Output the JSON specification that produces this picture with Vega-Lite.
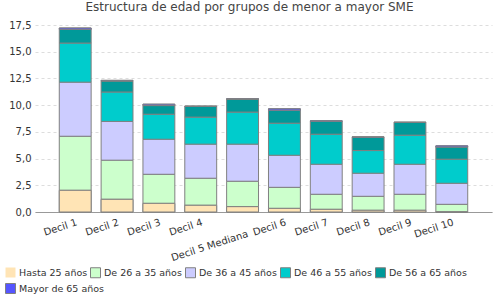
{
  "$schema": "https://vega.github.io/schema/vega-lite/v6.json",
  "autosize": "none",
  "width": 457,
  "height": 187,
  "padding": {"left": 35, "top": 25, "right": 8, "bottom": 88},
  "background": "white",
  "title": {"text": "Estructura de edad por grupos de menor a mayor SME", "fontSize": 12, "fontWeight": "normal", "font": "DejaVu Sans", "color": "#444444", "anchor": "middle", "dx": -14, "offset": 6},
  "config": {"view": {"stroke": null}, "font": "DejaVu Sans"},
  "data": {"values": [
    {"decil": "Decil 1", "grupo": "Hasta 25 años", "o": 1, "v": 2.03},
    {"decil": "Decil 1", "grupo": "De 26 a 35 años", "o": 2, "v": 5.06},
    {"decil": "Decil 1", "grupo": "De 36 a 45 años", "o": 3, "v": 5.06},
    {"decil": "Decil 1", "grupo": "De 46 a 55 años", "o": 4, "v": 3.66},
    {"decil": "Decil 1", "grupo": "De 56 a 65 años", "o": 5, "v": 1.28},
    {"decil": "Decil 1", "grupo": "Mayor de 65 años", "o": 6, "v": 0.13},
    {"decil": "Decil 2", "grupo": "Hasta 25 años", "o": 1, "v": 1.19},
    {"decil": "Decil 2", "grupo": "De 26 a 35 años", "o": 2, "v": 3.66},
    {"decil": "Decil 2", "grupo": "De 36 a 45 años", "o": 3, "v": 3.63},
    {"decil": "Decil 2", "grupo": "De 46 a 55 años", "o": 4, "v": 2.75},
    {"decil": "Decil 2", "grupo": "De 56 a 65 años", "o": 5, "v": 1.03},
    {"decil": "Decil 2", "grupo": "Mayor de 65 años", "o": 6, "v": 0.06},
    {"decil": "Decil 3", "grupo": "Hasta 25 años", "o": 1, "v": 0.81},
    {"decil": "Decil 3", "grupo": "De 26 a 35 años", "o": 2, "v": 2.72},
    {"decil": "Decil 3", "grupo": "De 36 a 45 años", "o": 3, "v": 3.28},
    {"decil": "Decil 3", "grupo": "De 46 a 55 años", "o": 4, "v": 2.34},
    {"decil": "Decil 3", "grupo": "De 56 a 65 años", "o": 5, "v": 0.81},
    {"decil": "Decil 3", "grupo": "Mayor de 65 años", "o": 6, "v": 0.13},
    {"decil": "Decil 4", "grupo": "Hasta 25 años", "o": 1, "v": 0.63},
    {"decil": "Decil 4", "grupo": "De 26 a 35 años", "o": 2, "v": 2.53},
    {"decil": "Decil 4", "grupo": "De 36 a 45 años", "o": 3, "v": 3.19},
    {"decil": "Decil 4", "grupo": "De 46 a 55 años", "o": 4, "v": 2.53},
    {"decil": "Decil 4", "grupo": "De 56 a 65 años", "o": 5, "v": 1.0},
    {"decil": "Decil 4", "grupo": "Mayor de 65 años", "o": 6, "v": 0.03},
    {"decil": "Decil 5 Mediana", "grupo": "Hasta 25 años", "o": 1, "v": 0.5},
    {"decil": "Decil 5 Mediana", "grupo": "De 26 a 35 años", "o": 2, "v": 2.38},
    {"decil": "Decil 5 Mediana", "grupo": "De 36 a 45 años", "o": 3, "v": 3.47},
    {"decil": "Decil 5 Mediana", "grupo": "De 46 a 55 años", "o": 4, "v": 3.0},
    {"decil": "Decil 5 Mediana", "grupo": "De 56 a 65 años", "o": 5, "v": 1.22},
    {"decil": "Decil 5 Mediana", "grupo": "Mayor de 65 años", "o": 6, "v": 0.03},
    {"decil": "Decil 6", "grupo": "Hasta 25 años", "o": 1, "v": 0.34},
    {"decil": "Decil 6", "grupo": "De 26 a 35 años", "o": 2, "v": 1.97},
    {"decil": "Decil 6", "grupo": "De 36 a 45 años", "o": 3, "v": 3.0},
    {"decil": "Decil 6", "grupo": "De 46 a 55 años", "o": 4, "v": 3.0},
    {"decil": "Decil 6", "grupo": "De 56 a 65 años", "o": 5, "v": 1.22},
    {"decil": "Decil 6", "grupo": "Mayor de 65 años", "o": 6, "v": 0.13},
    {"decil": "Decil 7", "grupo": "Hasta 25 años", "o": 1, "v": 0.25},
    {"decil": "Decil 7", "grupo": "De 26 a 35 años", "o": 2, "v": 1.41},
    {"decil": "Decil 7", "grupo": "De 36 a 45 años", "o": 3, "v": 2.81},
    {"decil": "Decil 7", "grupo": "De 46 a 55 años", "o": 4, "v": 2.81},
    {"decil": "Decil 7", "grupo": "De 56 a 65 años", "o": 5, "v": 1.22},
    {"decil": "Decil 7", "grupo": "Mayor de 65 años", "o": 6, "v": 0.03},
    {"decil": "Decil 8", "grupo": "Hasta 25 años", "o": 1, "v": 0.16},
    {"decil": "Decil 8", "grupo": "De 26 a 35 años", "o": 2, "v": 1.31},
    {"decil": "Decil 8", "grupo": "De 36 a 45 años", "o": 3, "v": 2.16},
    {"decil": "Decil 8", "grupo": "De 46 a 55 años", "o": 4, "v": 2.12},
    {"decil": "Decil 8", "grupo": "De 56 a 65 años", "o": 5, "v": 1.25},
    {"decil": "Decil 8", "grupo": "Mayor de 65 años", "o": 6, "v": 0.03},
    {"decil": "Decil 9", "grupo": "Hasta 25 años", "o": 1, "v": 0.16},
    {"decil": "Decil 9", "grupo": "De 26 a 35 años", "o": 2, "v": 1.5},
    {"decil": "Decil 9", "grupo": "De 36 a 45 años", "o": 3, "v": 2.81},
    {"decil": "Decil 9", "grupo": "De 46 a 55 años", "o": 4, "v": 2.72},
    {"decil": "Decil 9", "grupo": "De 56 a 65 años", "o": 5, "v": 1.19},
    {"decil": "Decil 9", "grupo": "Mayor de 65 años", "o": 6, "v": 0.03},
    {"decil": "Decil 10", "grupo": "Hasta 25 años", "o": 1, "v": 0.02},
    {"decil": "Decil 10", "grupo": "De 26 a 35 años", "o": 2, "v": 0.7},
    {"decil": "Decil 10", "grupo": "De 36 a 45 años", "o": 3, "v": 1.97},
    {"decil": "Decil 10", "grupo": "De 46 a 55 años", "o": 4, "v": 2.25},
    {"decil": "Decil 10", "grupo": "De 56 a 65 años", "o": 5, "v": 1.15},
    {"decil": "Decil 10", "grupo": "Mayor de 65 años", "o": 6, "v": 0.1}
  ]},
  "transform": [
    {"stack": "v", "groupby": ["decil"], "sort": [{"field": "o", "order": "ascending"}], "as": ["y0", "y1"]}
  ],
  "encoding": {
    "x": {"field": "decil", "type": "nominal", "sort": null,
      "scale": {"paddingInner": 0.238, "paddingOuter": 0.58},
      "axis": {"title": null, "labelAngle": -18, "labelAlign": "right", "labelBaseline": "top", "labelFontSize": 10, "labelColor": "#333333", "ticks": false, "domainColor": "#999999", "labelPadding": 5, "labelOverlap": false,
        "labelExpr": "datum.value == 'Decil 5 Mediana' ? ['', 'Decil 5 Mediana'] : datum.value"}},
    "y": {"field": "y1", "type": "quantitative",
      "scale": {"domain": [0, 17.5], "nice": false},
      "axis": {"title": null, "values": [0, 2.5, 5, 7.5, 10, 12.5, 15, 17.5], "labelExpr": "replace(format(datum.value, '.1f'), '.', ',')", "domain": false, "ticks": false, "labelFontSize": 10, "labelColor": "#333333", "gridColor": "#dddddd", "gridDash": [3, 3], "labelPadding": 4}},
    "y2": {"field": "y0"}
  },
  "layer": [
    {
      "mark": {"type": "bar", "stroke": "#808080", "strokeWidth": 1},
      "encoding": {
        "color": {"field": "grupo", "type": "nominal",
          "scale": {"domain": ["Hasta 25 años", "De 26 a 35 años", "De 36 a 45 años", "De 46 a 55 años", "De 56 a 65 años", "Mayor de 65 años"],
            "range": ["#ffe4b5", "#ccffcc", "#ccccff", "#00cccc", "#009999", "#5555ff"]},
          "legend": {"title": null, "orient": "none", "legendX": 55, "legendY": 242, "direction": "horizontal",
            "values": ["De 26 a 35 años", "De 36 a 45 años", "De 46 a 55 años", "De 56 a 65 años"],
            "symbolType": "square", "symbolSize": 100, "symbolStrokeColor": "#808080", "symbolStrokeWidth": 1, "labelFontSize": 9.5, "labelColor": "#333333", "columnPadding": 1, "labelOffset": 3}}
      }
    },
    {
      "transform": [{"filter": "datum.grupo == 'Hasta 25 años'"}],
      "mark": {"type": "bar", "fill": "#ffe4b5", "stroke": "#808080", "strokeWidth": 1},
      "encoding": {
        "opacity": {"field": "grupo", "type": "nominal",
          "scale": {"domain": ["Hasta 25 años"], "range": [1]},
          "legend": {"title": null, "orient": "none", "legendX": -30, "legendY": 242, "direction": "horizontal",
            "symbolType": "square", "symbolSize": 100, "symbolFillColor": "#ffe4b5", "symbolStrokeColor": "#808080", "symbolStrokeWidth": 1, "labelFontSize": 9.5, "labelColor": "#333333", "labelOffset": 3}}
      }
    },
    {
      "transform": [{"filter": "datum.grupo == 'Mayor de 65 años'"}],
      "mark": {"type": "bar", "stroke": "#808080", "strokeWidth": 1},
      "encoding": {
        "fill": {"field": "grupo", "type": "nominal",
          "scale": {"domain": ["Mayor de 65 años"], "range": ["#5555ff"]},
          "legend": {"title": null, "orient": "none", "legendX": -30, "legendY": 258, "direction": "horizontal",
            "symbolType": "square", "symbolSize": 100, "symbolStrokeColor": "#808080", "symbolStrokeWidth": 1, "labelFontSize": 9.5, "labelColor": "#333333", "labelOffset": 3}}
      }
    }
  ]
}
